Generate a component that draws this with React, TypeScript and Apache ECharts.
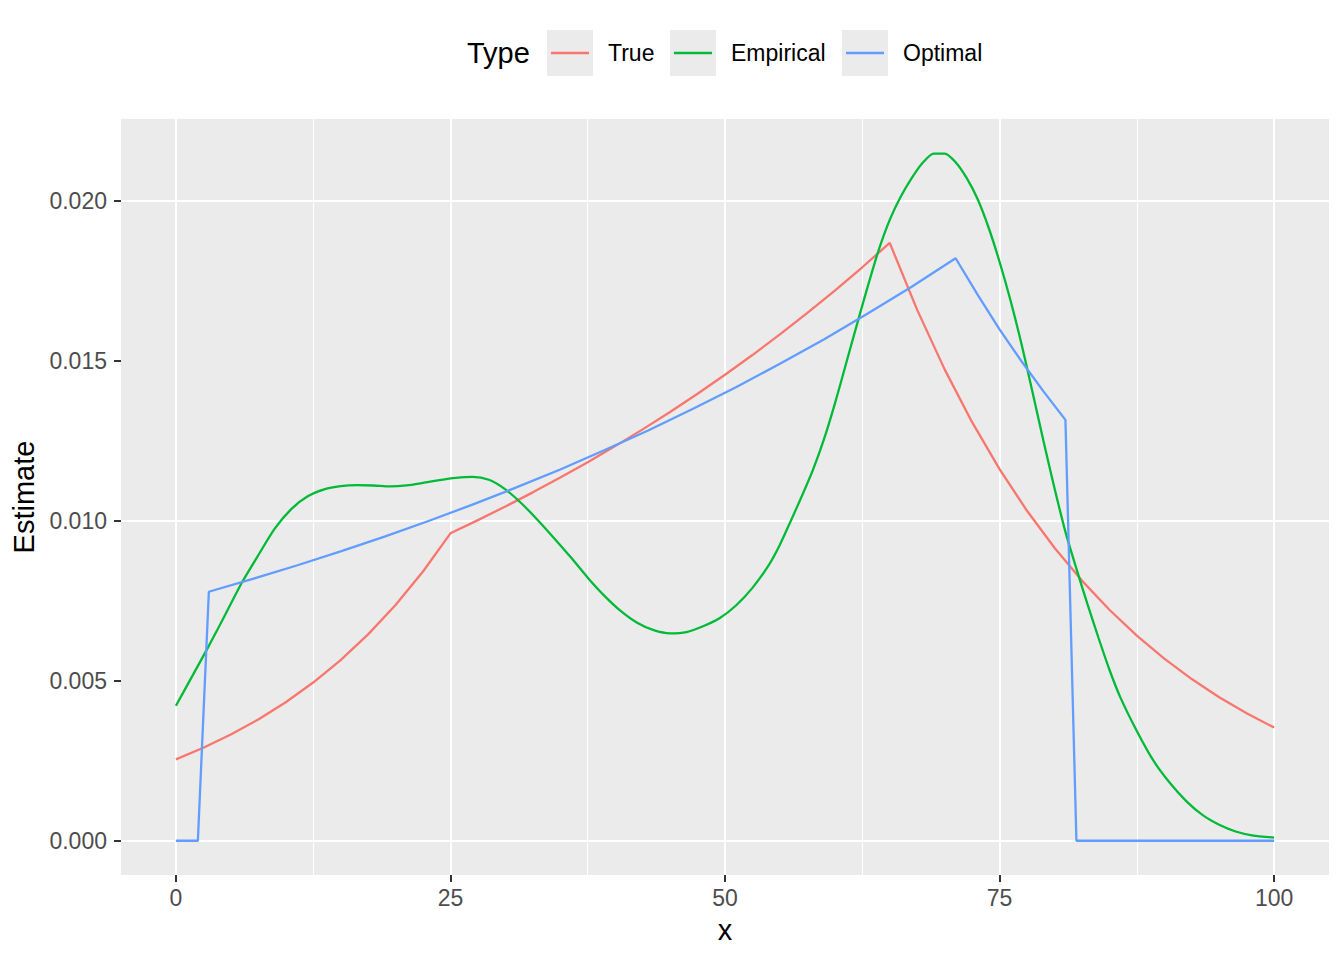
import React, { useEffect, useRef } from "react";
import * as echarts from "echarts";

// ---- data ----
const trueX = [0, 2.5, 5, 7.5, 10, 12.5, 15, 17.5, 20, 22.5, 25, 27.5, 30, 32.5, 35, 37.5, 40, 42.5, 45, 47.5, 50, 52.5, 55, 57.5, 60, 62.5, 65, 67.5, 70, 72.5, 75, 77.5, 80, 82.5, 85, 87.5, 90, 92.5, 95, 97.5, 100];
const trueY = [0.002544, 0.002906, 0.003318, 0.00379, 0.004328, 0.004943, 0.005646, 0.006448, 0.007364, 0.008411, 0.009606, 0.010018, 0.010443, 0.010885, 0.011347, 0.011828, 0.01233, 0.012853, 0.013398, 0.013966, 0.014558, 0.015175, 0.015819, 0.01649, 0.017189, 0.017918, 0.018678, 0.016586, 0.014727, 0.013077, 0.011611, 0.01031, 0.009154, 0.008128, 0.007217, 0.006408, 0.00569, 0.005052, 0.004486, 0.003983, 0.003537];

const empX = [0, 1.5, 3, 4.5, 6, 7.5, 9, 10.5, 12, 13.5, 15, 16.5, 18, 19.5, 21, 22.5, 24, 25.5, 27, 28.5, 30, 31.5, 33, 34.5, 36, 37.5, 39, 40.5, 42, 43.5, 45, 46.5, 48, 49.5, 51, 52.5, 54, 55, 56, 57, 58, 59, 60, 61, 62, 63, 64, 65, 66, 67, 68, 69, 70, 71, 72, 73, 74, 75, 76, 77, 78, 79, 80, 81, 82, 83, 84, 85, 86, 87.5, 89, 90.5, 92, 93.5, 95, 96.5, 98, 100];
const empY = [0.00422, 0.00515, 0.00609, 0.00707, 0.00806, 0.00892, 0.00975, 0.01036, 0.01076, 0.01098, 0.01108, 0.01111, 0.0111, 0.01107, 0.0111, 0.01118, 0.01127, 0.01134, 0.01137, 0.01128, 0.01098, 0.01053, 0.01, 0.00943, 0.00884, 0.00822, 0.00766, 0.00718, 0.00681, 0.00658, 0.00648, 0.00652, 0.0067, 0.00695, 0.00735, 0.0079, 0.00862, 0.00925, 0.01, 0.01077, 0.01158, 0.01253, 0.01365, 0.01488, 0.01611, 0.01732, 0.01846, 0.0194, 0.02012, 0.0207, 0.02118, 0.02147, 0.02147, 0.0212, 0.02071, 0.02005, 0.01916, 0.01809, 0.01688, 0.01552, 0.01402, 0.01249, 0.01102, 0.00965, 0.0085, 0.0074, 0.00635, 0.00535, 0.00448, 0.00343, 0.00251, 0.00181, 0.00124, 0.0008, 0.0005, 0.00029, 0.00017, 0.0001];

const optX = [0, 2, 3, 7, 11, 15, 19, 23, 27, 31, 35, 39, 43, 47, 51, 55, 59, 63, 67, 71, 73, 75, 77, 79, 81, 82, 100];
const optY = [0, 0, 0.00778, 0.00818, 0.0086, 0.00904, 0.0095, 0.00999, 0.0105, 0.01104, 0.0116, 0.0122, 0.01282, 0.01348, 0.01417, 0.0149, 0.01566, 0.01647, 0.01731, 0.0182, 0.01706, 0.01598, 0.01498, 0.01404, 0.01315, 0, 0];

const seriesNames = ["True", "Empirical", "Optimal"];
const seriesColors = ["#F8766D", "#00BA38", "#619CFF"];
const seriesSmooth = [false, 0.25, false];

const xBreaks = [0, 25, 50, 75, 100];
const xMinor = [12.5, 37.5, 62.5, 87.5];
const yBreaks = [0, 0.005, 0.01, 0.015, 0.02];
const yMinor = [0.0025, 0.0075, 0.0125, 0.0175];

const FONT = "'Liberation Sans', Arial, Helvetica, sans-serif";

function zip(xs: number[], ys: number[]) {
  return xs.map((x, i) => [x, ys[i]]);
}

export default function App() {
  const ref = useRef<HTMLDivElement>(null);
  useEffect(() => {
    if (!ref.current) return;
    const chart = echarts.init(ref.current, undefined, { renderer: "svg" });
    const dataSets = [zip(trueX, trueY), zip(empX, empY), zip(optX, optY)];

    const gridLines = [
      ...xMinor.map((v) => ({ xAxis: v, lineStyle: { width: 1 } })),
      ...yMinor.map((v) => ({ yAxis: v, lineStyle: { width: 1 } })),
      ...xBreaks.map((v) => ({ xAxis: v, lineStyle: { width: 2 } })),
      ...yBreaks.map((v) => ({ yAxis: v, lineStyle: { width: 2 } })),
    ];

    const legendX = [547, 670, 842];
    const legendTextX = [608, 731, 903];
    const legendGraphics: any[] = [
      {
        type: "text",
        x: 467,
        y: 53,
        style: {
          text: "Type",
          fill: "#000000",
          fontSize: 29,
          fontFamily: FONT,
          align: "left",
          verticalAlign: "middle",
          textAlign: "left",
          textVerticalAlign: "middle",
        },
      },
    ];
    seriesNames.forEach((name, i) => {
      legendGraphics.push({
        type: "rect",
        shape: { x: legendX[i], y: 30, width: 46, height: 46 },
        style: { fill: "#EBEBEB" },
      });
      legendGraphics.push({
        type: "line",
        shape: { x1: legendX[i] + 4, y1: 53, x2: legendX[i] + 42, y2: 53 },
        style: { stroke: seriesColors[i], lineWidth: 2.3 },
      });
      legendGraphics.push({
        type: "text",
        x: legendTextX[i],
        y: 53,
        style: {
          text: name,
          fill: "#000000",
          fontSize: 23,
          fontFamily: FONT,
          align: "left",
          verticalAlign: "middle",
          textAlign: "left",
          textVerticalAlign: "middle",
        },
      });
    });

    chart.setOption({
      animation: false,
      backgroundColor: "#FFFFFF",
      textStyle: { fontFamily: FONT },
      grid: {
        left: 121,
        right: 15,
        top: 119,
        bottom: 85,
        show: true,
        backgroundColor: "#EBEBEB",
        borderWidth: 0,
        containLabel: false,
      },
      xAxis: {
        type: "value",
        min: -5,
        max: 105,
        name: "x",
        nameLocation: "middle",
        nameGap: 40,
        nameTextStyle: { fontSize: 29, color: "#000000", fontFamily: FONT },
        axisLine: { show: false, onZero: false },
        axisTick: {
          show: true,
          length: 7,
          customValues: xBreaks,
          lineStyle: { color: "#333333", width: 2 },
        },
        axisLabel: {
          customValues: xBreaks,
          fontSize: 23,
          color: "#4D4D4D",
          margin: 11,
          fontFamily: FONT,
        },
        splitLine: { show: false },
      },
      yAxis: {
        type: "value",
        min: -0.00107,
        max: 0.02255,
        name: "Estimate",
        nameLocation: "middle",
        nameRotate: 90,
        nameGap: 76,
        nameTextStyle: { fontSize: 29, color: "#000000", fontFamily: FONT },
        axisLine: { show: false, onZero: false },
        axisTick: {
          show: true,
          length: 7,
          customValues: yBreaks,
          lineStyle: { color: "#333333", width: 2 },
        },
        axisLabel: {
          customValues: yBreaks,
          fontSize: 23,
          color: "#4D4D4D",
          margin: 14,
          fontFamily: FONT,
          formatter: (v: number) => v.toFixed(3),
        },
        splitLine: { show: false },
      },
      graphic: legendGraphics,
      series: [
        {
          type: "line",
          name: "grid",
          data: [],
          z: 1,
          silent: true,
          markLine: {
            z: 1,
            silent: true,
            symbol: ["none", "none"],
            label: { show: false },
            lineStyle: { color: "#FFFFFF", type: "solid" },
            emphasis: { disabled: true },
            data: gridLines,
          },
        },
        ...seriesNames.map((name, i) => ({
          type: "line",
          name,
          data: dataSets[i],
          z: 3 + i,
          showSymbol: false,
          symbol: "none",
          smooth: seriesSmooth[i],
          lineStyle: { color: seriesColors[i], width: 2.3 },
          itemStyle: { color: seriesColors[i] },
        })),
      ],
    });
    return () => chart.dispose();
  }, []);

  return (
    <div
      ref={ref}
      style={{ position: "fixed", left: 0, top: 0, width: 1344, height: 960, background: "#FFFFFF" }}
    />
  );
}
